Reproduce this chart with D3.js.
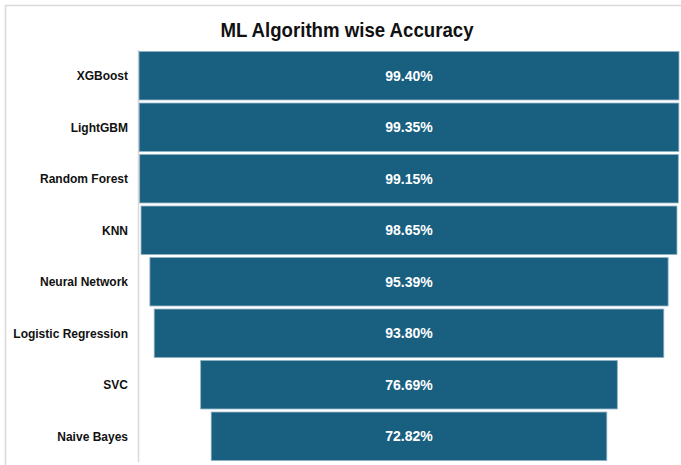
<!DOCTYPE html>
<html>
<head>
<meta charset="utf-8">
<script src="https://cdn.jsdelivr.net/npm/d3@7"></script>
<style>
  body { margin: 0; background: #fff; }
  svg { display: block; }
</style>
</head>
<body>
<svg></svg>
<script>
const algorithms = ["XGBoost", "LightGBM", "Random Forest", "KNN", "Neural Network", "Logistic Regression", "SVC", "Naive Bayes"];
const accuracy = [99.40, 99.35, 99.15, 98.65, 95.39, 93.80, 76.69, 72.82];

const svgWidth = 681;
const svgHeight = 465;
const plotLeft = 139;
const plotRight = 679;
const plotTop = 50;
const plotBottom = 462;
const center = (plotLeft + plotRight) / 2;

const svg = d3.select("svg")
	.attr("width", svgWidth)
	.attr("height", svgHeight);

// chart frame (only top and left edges are inside the picture)
svg.append("path")
	.attr("d", `M5.5,${svgHeight} V5.5 H${svgWidth}`)
	.attr("fill", "none")
	.attr("stroke", "#d9d9d9")
	.attr("stroke-width", 1.5);

// Title - condensed look
svg.append("text")
	.text("ML Algorithm wise Accuracy")
	.attr("x", 347)
	.attr("y", 37)
	.attr("font-family", "'Liberation Sans', Arial, sans-serif")
	.attr("font-weight", "bold")
	.attr("font-size", "21px")
	.attr("textLength", 253)
	.attr("lengthAdjust", "spacingAndGlyphs")
	.attr("fill", "#111")
	.attr("text-anchor", "middle");

const yScale = d3.scaleBand()
	.domain(algorithms)
	.range([plotTop, plotBottom])
	.paddingInner(0.06)
	.paddingOuter(0.03);

const wScale = d3.scaleLinear()
	.domain([0, d3.max(accuracy)])
	.range([0, plotRight - plotLeft]);

const rows = algorithms.map((name, i) => ({name: name, value: accuracy[i]}));

// vertical axis line
svg.append("line")
	.attr("x1", plotLeft - 0.5)
	.attr("x2", plotLeft - 0.5)
	.attr("y1", plotTop)
	.attr("y2", plotBottom)
	.attr("stroke", "#d9d9d9")
	.attr("stroke-width", 1.5);

// bars
svg.selectAll("rect.bar")
	.data(rows)
	.enter()
	.append("rect")
		.attr("class", "bar")
		.attr("x", d => center - wScale(d.value) / 2)
		.attr("y", d => yScale(d.name))
		.attr("width", d => wScale(d.value))
		.attr("height", yScale.bandwidth())
		.attr("fill", "#195f80")
		.attr("stroke", "#8db1c3")
		.attr("stroke-width", 0.8);

// value labels
svg.selectAll("text.val")
	.data(rows)
	.enter()
	.append("text")
		.attr("class", "val")
		.text(d => d.value.toFixed(2) + "%")
		.attr("x", center)
		.attr("y", d => yScale(d.name) + yScale.bandwidth() / 2)
		.attr("dy", "0.36em")
		.attr("font-family", "'Liberation Sans', Arial, sans-serif")
		.attr("font-weight", "bold")
		.attr("font-size", "14px")
		.attr("fill", "#fff")
		.attr("text-anchor", "middle");

// category labels
svg.selectAll("text.cat")
	.data(rows)
	.enter()
	.append("text")
		.attr("class", "cat")
		.text(d => d.name)
		.attr("x", 128)
		.attr("y", d => yScale(d.name) + yScale.bandwidth() / 2)
		.attr("dy", "0.36em")
		.attr("font-family", "'Liberation Sans', Arial, sans-serif")
		.attr("font-weight", "bold")
		.attr("font-size", "12px")
		.attr("fill", "#111")
		.attr("text-anchor", "end");
</script>
</body>
</html>
